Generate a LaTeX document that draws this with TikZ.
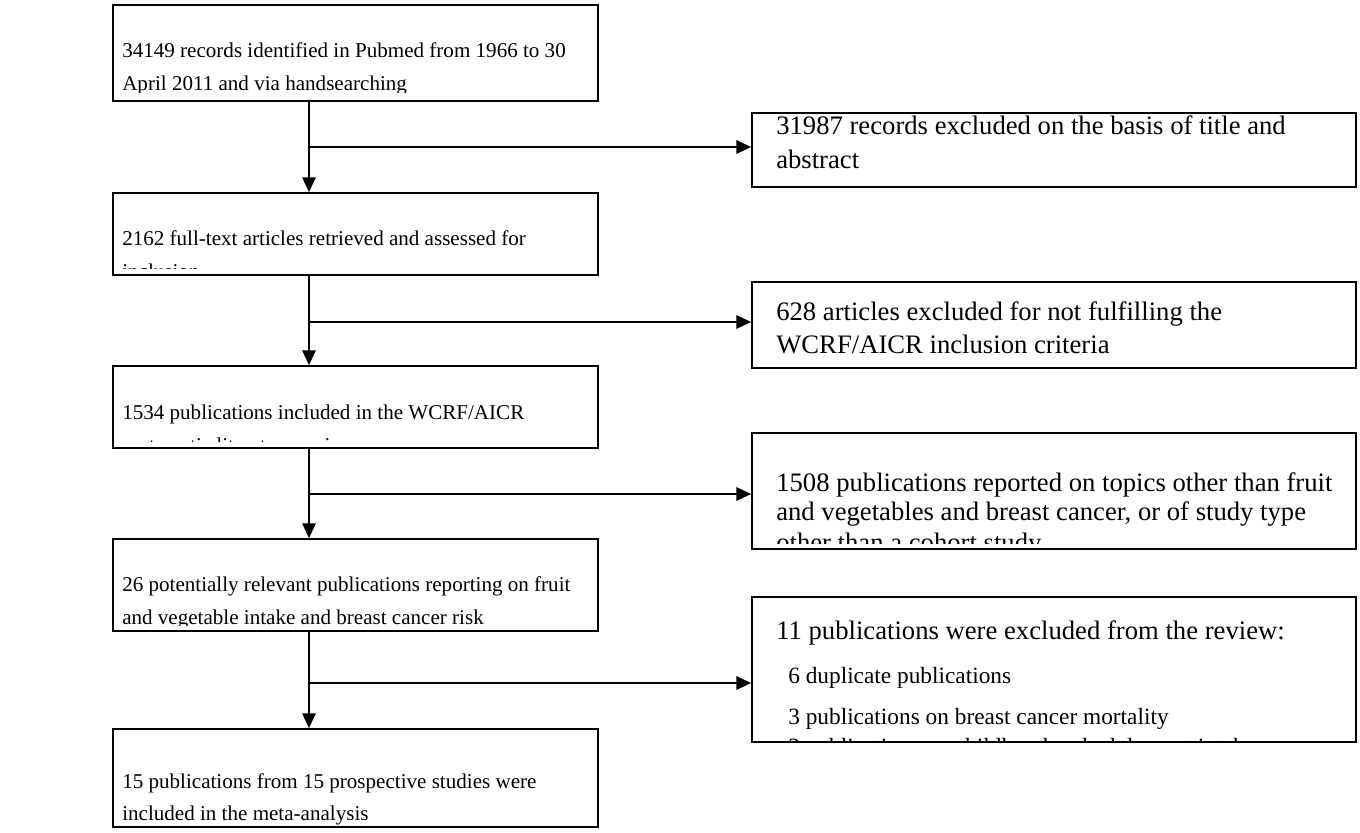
\documentclass[tikz,border=0pt]{standalone}
\usepackage{fontspec}
\setmainfont{Liberation Serif}
\usetikzlibrary{arrows.meta,fit}
\begin{document}
\begin{tikzpicture}[x=0.75pt,y=-0.75pt,
  box/.style={draw=black, line width=1.3pt, rectangle, inner sep=0pt},
  txt/.style={anchor=base west, inner sep=0pt, font=\fontsize{15.8}{19}\selectfont},
  rtxt/.style={anchor=base west, inner sep=0pt, font=\fontsize{20}{24}\selectfont},
  itxt/.style={anchor=base west, inner sep=0pt, font=\fontsize{17.5}{21}\selectfont},
  flow/.style={line width=1.3pt, -{Triangle[length=11pt,width=10pt]}}]
\useasboundingbox (0,0) rectangle (1360,832);
% left column boxes
\node[box, fit={(113,5) (598,101)}] (b1) {};
\node[box, fit={(113,193) (598,275)}] (b2) {};
\node[box, fit={(113,366) (598,448)}] (b3) {};
\node[box, fit={(113,539) (598,631)}] (b4) {};
\node[box, fit={(113,729) (598,827)}] (b5) {};
% right column boxes
\node[box, fit={(752,113) (1356,187)}] (r1) {};
\node[box, fit={(752,282) (1356,368)}] (r2) {};
\node[box, fit={(752,433) (1356,549)}] (r3) {};
\node[box, fit={(752,597) (1356,742)}] (r4) {};
% texts
\begin{scope}
\clip (113,5) rectangle (598,92);
\node[txt] (t1a) at (122,57) {34149 records identified in Pubmed from 1966 to 30};
\node[txt] (t1b) at (122,90) {April 2011 and via handsearching};
\end{scope}
\begin{scope}
\clip (113,193) rectangle (598,268);
\node[txt] (t2a) at (122,245) {2162 full-text articles retrieved and assessed for};
\node[txt] (t2b) at (122,278) {inclusion};
\end{scope}
\begin{scope}
\clip (113,366) rectangle (598,441);
\node[txt] (t3a) at (122,419) {1534 publications included in the WCRF/AICR};
\node[txt] (t3b) at (122,452) {systematic literature review};
\end{scope}
\begin{scope}
\clip (113,539) rectangle (598,625);
\node[txt] (t4a) at (122,591) {26 potentially relevant publications reporting on fruit};
\node[txt] (t4b) at (122,624) {and vegetable intake and breast cancer risk};
\end{scope}
\node[txt] (t5a) at (122,788) {15 publications from 15 prospective studies were};
\node[txt] (t5b) at (122,820) {included in the meta-analysis};
\node[rtxt] (s1a) at (776,134) {31987 records excluded on the basis of title and};
\node[rtxt] (s1b) at (776,168) {abstract};
\node[rtxt] (s2a) at (776,320) {628 articles excluded for not fulfilling the};
\node[rtxt] (s2b) at (776,353) {WCRF/AICR inclusion criteria};
\begin{scope}
\clip (752,433) rectangle (1356,543);
\node[rtxt] (s3a) at (776,491) {1508 publications reported on topics other than fruit};
\node[rtxt] (s3b) at (776,520) {and vegetables and breast cancer, or of study type};
\node[rtxt] (s3c) at (776,551) {other than a cohort study};
\end{scope}
\begin{scope}
\clip (752,597) rectangle (1356,742);
\node[rtxt] (s4a) at (776,639) {11 publications were excluded from the review:};
\node[itxt] (s4b) at (788,683) {6 duplicate publications};
\node[itxt] (s4c) at (788,724) {3 publications on breast cancer mortality};
\node[itxt] (s4d) at (788,754) {2 publications on childhood and adolescent intake};
\end{scope}
% connectors
\coordinate (vx) at (309,0);
\draw[flow] (vx |- b1.south) -- (vx |- b2.north);
\draw[flow] (vx |- b2.south) -- (vx |- b3.north);
\draw[flow] (vx |- b3.south) -- (vx |- b4.north);
\draw[flow] (vx |- b4.south) -- (vx |- b5.north);
\coordinate (j1) at (309,147);
\coordinate (j2) at (309,322);
\coordinate (j3) at (309,494);
\coordinate (j4) at (309,683);
\draw[flow] (j1) -- (r1.west |- j1);
\draw[flow] (j2) -- (r2.west |- j2);
\draw[flow] (j3) -- (r3.west |- j3);
\draw[flow] (j4) -- (r4.west |- j4);
\end{tikzpicture}
\end{document}
